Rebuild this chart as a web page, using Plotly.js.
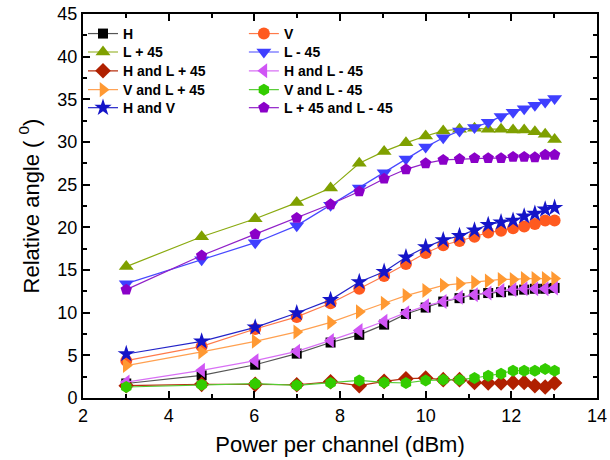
<!DOCTYPE html>
<html>
<head>
<meta charset="utf-8">
<script src="https://cdn.plot.ly/plotly-3.0.1.min.js"></script>
<style>html,body{margin:0;padding:0;background:#fff;}#chart{width:610px;height:460px;}</style>
</head>
<body>
<div id="chart"></div>
<script>
// Power per channel (dBm)
const powerDbm = [3.01, 4.77, 6.02, 6.99, 7.78, 8.45, 9.03, 9.54, 10.00, 10.41, 10.79, 11.14, 11.46, 11.76, 12.04, 12.30, 12.55, 12.79, 13.01];

const seriesNames = ["H", "V", "L + 45", "L - 45", "H and L + 45", "H and L - 45", "V and L + 45", "V and L - 45", "H and V", "L + 45 and L - 45"];

const angleH      = [1.7, 2.65, 3.9, 5.2, 6.5, 7.4, 8.6, 9.85, 10.6, 11.3, 11.7, 12.1, 12.3, 12.4, 12.6, 12.7, 12.8, 12.8, 12.9];
const angleV      = [4.37, 6.05, 8.09, 9.5, 11.1, 12.8, 14.3, 15.7, 17.0, 17.9, 18.4, 18.9, 19.4, 19.6, 19.9, 20.1, 20.4, 20.8, 20.8];
const angleLp45   = [15.4, 18.9, 21.0, 22.9, 24.6, 27.5, 28.9, 29.9, 30.7, 31.3, 31.5, 31.6, 31.5, 31.5, 31.4, 31.4, 31.2, 30.9, 30.3];
const angleLm45   = [13.4, 16.2, 18.2, 20.2, 22.6, 24.6, 26.4, 28.0, 29.4, 30.5, 31.3, 31.7, 32.3, 33.0, 33.5, 33.9, 34.3, 34.7, 35.1];
const angleHLp45  = [1.45, 1.6, 1.6, 1.55, 1.9, 1.44, 1.95, 2.26, 2.34, 2.15, 2.15, 1.83, 1.76, 1.76, 1.83, 1.83, 1.44, 1.29, 1.76];
const angleHLm45  = [1.87, 3.24, 4.37, 5.47, 6.75, 7.9, 9.0, 10.0, 10.8, 11.3, 11.8, 12.1, 12.3, 12.6, 12.7, 12.8, 12.8, 12.8, 12.9];
const angleVLp45  = [3.8, 5.4, 6.64, 7.74, 8.86, 10.1, 11.1, 12.0, 12.6, 13.2, 13.4, 13.55, 13.7, 13.9, 13.9, 14.0, 14.0, 14.0, 14.0];
const angleVLm45  = [1.29, 1.56, 1.68, 1.48, 1.76, 2.06, 1.83, 1.76, 2.06, 2.15, 2.15, 2.34, 2.6, 2.85, 3.2, 3.2, 3.2, 3.4, 3.2];
const angleHV     = [5.16, 6.64, 8.28, 9.96, 11.5, 13.6, 14.8, 16.5, 17.7, 18.5, 19.0, 19.65, 20.3, 20.6, 20.8, 21.3, 21.6, 22.1, 22.3];
const angleLpLm   = [12.7, 16.7, 19.2, 21.1, 22.7, 24.2, 25.7, 26.8, 27.5, 27.9, 28.0, 28.1, 28.1, 28.1, 28.25, 28.25, 28.2, 28.5, 28.5];

const seriesValues = [angleH, angleV, angleLp45, angleLm45, angleHLp45, angleHLm45, angleVLp45, angleVLm45, angleHV, angleLpLm];

const markerColors = ["#000000", "#FF5A1F", "#7FA000", "#3F3FFF", "#B02000", "#D055F5", "#FF9933", "#33CC00", "#1414C8", "#8A00C8"];
const lineColors   = ["#555555", "#FF7A4A", "#8AAA10", "#4848FF", "#B83010", "#D870F5", "#FFA050", "#55CC33", "#2424C8", "#9020C8"];
const symbols = ["square", "circle", "triangle-up", "triangle-down", "diamond", "triangle-left", "triangle-right", "hexagon", "star", "pentagon"];
const sizes = [10, 12, 13, 13, 12, 13, 13, 12, 13, 12];

const FONT = "Arial, 'Liberation Sans', sans-serif";

const traces = seriesNames.map((name, i) => ({
  type: "scatter",
  mode: "lines+markers",
  name: name,
  x: powerDbm,
  y: seriesValues[i],
  legend: i === 0 ? "legend" : "legend" + (i + 1),
  line: {color: lineColors[i], width: 1.2},
  marker: {symbol: symbols[i], size: sizes[i], color: markerColors[i], line: {width: 0}}
}));

const colX = [0.0, 0.313];
const rowY = [0.948, 0.9, 0.851, 0.802, 0.755];

const layout = {
  width: 610,
  height: 460,
  margin: {l: 83, r: 13, t: 14, b: 62},
  paper_bgcolor: "#ffffff",
  plot_bgcolor: "#ffffff",
  font: {family: FONT, color: "#000"},
  showlegend: true,
  xaxis: {
    range: [2, 14],
    dtick: 2,
    tick0: 2,
    ticks: "inside",
    ticklen: 7,
    tickwidth: 1.5,
    tickcolor: "#000",
    minor: {dtick: 1, ticks: "inside", ticklen: 4, tickwidth: 1.5, tickcolor: "#000"},
    showline: true,
    linewidth: 2,
    linecolor: "#000",
    mirror: "ticks",
    showgrid: false,
    zeroline: false,
    tickfont: {size: 18, family: FONT},
    title: {text: "Power per channel (dBm)", font: {size: 22, family: FONT}, standoff: 12}
  },
  yaxis: {
    range: [0, 45],
    dtick: 5,
    tick0: 0,
    ticks: "inside",
    ticklen: 7,
    tickwidth: 1.5,
    tickcolor: "#000",
    minor: {dtick: 2.5, ticks: "inside", ticklen: 4, tickwidth: 1.5, tickcolor: "#000"},
    showline: true,
    linewidth: 2,
    linecolor: "#000",
    mirror: "ticks",
    showgrid: false,
    zeroline: false,
    tickfont: {size: 18, family: FONT},
    title: {text: "Relative angle ( <sup>0</sup>)", font: {size: 22, family: FONT}, standoff: 12}
  }
};

seriesNames.forEach((name, i) => {
  const key = i === 0 ? "legend" : "legend" + (i + 1);
  layout[key] = {
    x: colX[i % 2],
    y: rowY[Math.floor(i / 2)],
    xanchor: "left",
    yanchor: "middle",
    bgcolor: "rgba(0,0,0,0)",
    borderwidth: 0,
    font: {size: 14, family: FONT, weight: "bold", color: "#000"}
  };
});

Plotly.newPlot("chart", traces, layout, {displayModeBar: false, responsive: false});
</script>
</body>
</html>
